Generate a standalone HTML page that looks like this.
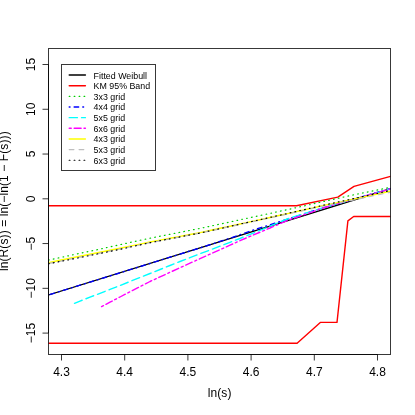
<!DOCTYPE html>
<html><head><meta charset="utf-8"><title>plot</title>
<style>
html,body{margin:0;padding:0;background:#fff;}
svg{display:block;will-change:transform;}
text{font-family:"Liberation Sans",sans-serif;fill:#000;}
.ax{stroke:#000;stroke-opacity:0.78;stroke-width:1;}
</style></head><body>
<svg width="415" height="415" viewBox="0 0 415 415">
<rect width="415" height="415" fill="#fff"/>
<defs><clipPath id="c"><rect x="48.5" y="48.5" width="342" height="306"/></clipPath></defs>
<g clip-path="url(#c)" stroke-linejoin="round" stroke-linecap="round">
<polyline points="40.0,297.6 400.0,185.8" fill="none" stroke="#000" stroke-width="1.4"/>
<polyline points="40.0,205.7 296.5,205.7 337.8,197.1 354.0,186.4 390.5,176.4 400.0,173.8" fill="none" stroke="#ff0000" stroke-width="1.4"/>
<polyline points="40.0,343.3 297.1,343.3 320.3,322.4 337.0,322.4 347.9,220.9 353.7,216.5 400.0,216.5" fill="none" stroke="#ff0000" stroke-width="1.4"/>
<polyline points="40.0,261.9 48.5,260.1 60.0,257.6 70.0,255.5 80.0,253.3 90.0,251.2 100.0,249.1 110.0,246.9 120.0,244.7 130.0,242.5 140.0,240.3 150.0,238.2 160.0,236.2 170.0,234.3 180.0,232.3 190.0,230.4 200.0,228.4 210.0,226.3 220.0,224.1 230.0,222.0 240.0,219.8 250.0,217.7 260.0,215.5 270.0,213.4 280.0,211.2 290.0,209.1 300.0,206.8 310.0,204.6 320.0,202.3 330.0,200.1 340.0,197.9 350.0,195.6 360.0,193.5 370.0,191.5 380.0,189.4 390.0,187.4 390.5,187.3 400.0,185.4" fill="none" stroke="#00cd00" stroke-width="1.22" stroke-dasharray="0.75,4.19" stroke-dashoffset="1.24"/>
<polyline points="40.0,297.6 48.5,295.0 60.0,291.4 70.0,288.3 80.0,285.2 90.0,282.1 100.0,279.0 110.0,275.9 120.0,272.8 130.0,269.7 140.0,266.6 150.0,263.5 160.0,260.3 170.0,257.2 180.0,254.1 190.0,251.0 200.0,247.9 210.0,244.7 220.0,241.4 230.0,238.2 240.0,234.7 250.0,231.2 260.0,227.9 270.0,224.8 280.0,221.6 290.0,218.4 300.0,215.1 310.0,211.9 320.0,208.8 330.0,205.9 340.0,202.9 350.0,200.1 360.0,197.3 370.0,194.4 380.0,191.6 390.0,188.8 390.5,188.7 400.0,186.1" fill="none" stroke="#0000ff" stroke-width="1.4" stroke-dasharray="0.82,4.12,4.53,4.12" stroke-dashoffset="7.8"/>
<polyline points="74.5,303.3 80.0,301.1 90.0,297.2 100.0,293.3 110.0,289.4 120.0,285.5 130.0,281.5 140.0,277.5 150.0,273.5 160.0,269.5 170.0,265.5 180.0,261.5 190.0,257.7 200.0,253.8 210.0,250.0 220.0,246.2 230.0,242.3 240.0,238.5 250.0,234.4 260.0,230.3 270.0,226.2 280.0,222.0 290.0,217.9 300.0,214.9 310.0,211.8 320.0,208.8 330.0,205.7 340.0,203.0 350.0,200.2 360.0,197.5 370.0,194.7 380.0,191.8 390.0,189.0 390.5,188.8 400.0,186.1" fill="none" stroke="#00ffff" stroke-width="1.4" stroke-dasharray="8.23,4.12" stroke-dashoffset="0"/>
<polyline points="101.6,306.6 110.0,302.2 120.0,297.0 130.0,291.8 140.0,286.6 150.0,281.5 160.0,276.9 170.0,272.3 180.0,267.7 190.0,263.2 200.0,258.7 210.0,254.2 220.0,249.7 230.0,245.2 240.0,240.7 250.0,236.4 260.0,232.2 270.0,228.0 280.0,223.7 290.0,219.5 300.0,216.1 310.0,212.6 320.0,209.1 330.0,205.9 340.0,202.9 350.0,200.2 360.0,197.5 370.0,194.7 380.0,191.8 390.0,189.0 390.5,188.8 400.0,186.1" fill="none" stroke="#ff00ff" stroke-width="1.4" stroke-dasharray="2.06,2.88,7.00,2.88" stroke-dashoffset="0"/>
<polyline points="40.0,264.3 48.5,262.6 60.0,260.3 70.0,258.3 80.0,256.3 90.0,254.3 100.0,252.3 110.0,250.2 120.0,248.2 130.0,246.1 140.0,244.1 150.0,242.0 160.0,240.1 170.0,238.2 180.0,236.4 190.0,234.5 200.0,232.6 210.0,230.5 220.0,228.3 230.0,226.2 240.0,224.0 250.0,221.9 260.0,219.7 270.0,217.5 280.0,215.3 290.0,213.1 300.0,210.8 310.0,208.6 320.0,206.3 330.0,204.1 340.0,202.1 350.0,199.9 360.0,197.8 370.0,195.6 380.0,193.5 390.0,191.3 390.5,191.2 400.0,189.1" fill="none" stroke="#ffff00" stroke-width="1.4"/>
<polyline points="40.0,265.3 48.5,263.6 60.0,261.3 70.0,259.2 80.0,257.2 90.0,255.2 100.0,253.2 110.0,251.1 120.0,249.0 130.0,246.9 140.0,244.8 150.0,242.7 160.0,240.8 170.0,238.9 180.0,237.0 190.0,235.1 200.0,233.2 210.0,231.0 220.0,228.8 230.0,226.6 240.0,224.4 250.0,222.2 260.0,220.0 270.0,217.8 280.0,215.7 290.0,213.5 300.0,211.3 310.0,209.0 320.0,206.8 330.0,204.7 340.0,202.7 350.0,200.6 360.0,198.6 370.0,196.5 380.0,194.4 390.0,192.3 390.5,192.2 400.0,190.2" fill="none" stroke="#bebebe" stroke-width="1.22" stroke-dasharray="4.71,5.17" stroke-dashoffset="0"/>
<polyline points="40.0,265.5 48.5,263.8 60.0,261.5 70.0,259.5 80.0,257.5 90.0,255.4 100.0,253.4 110.0,251.4 120.0,249.3 130.0,247.1 140.0,244.9 150.0,242.7 160.0,240.7 170.0,238.8 180.0,236.9 190.0,234.9 200.0,233.0 210.0,230.8 220.0,228.6 230.0,226.4 240.0,224.1 250.0,221.9 260.0,219.7 270.0,217.4 280.0,215.2 290.0,212.9 300.0,210.6 310.0,208.3 320.0,206.0 330.0,203.8 340.0,201.6 350.0,199.5 360.0,197.2 370.0,195.0 380.0,192.8 390.0,190.5 390.5,190.4 400.0,188.3" fill="none" stroke="#000" stroke-width="1.22" stroke-dasharray="0.75,4.19" stroke-dashoffset="1.24"/>
</g>
<rect x="48.5" y="48.5" width="342" height="306" fill="none" class="ax"/>
<line x1="61.5" y1="354.5" x2="377.5" y2="354.5" class="ax"/>
<line x1="48.5" y1="64.5" x2="48.5" y2="333.10" class="ax"/>
<line x1="61.5" y1="354.5" x2="61.5" y2="360.5" class="ax"/>
<text x="61.5" y="375.8" font-size="12" text-anchor="middle">4.3</text>
<line x1="124.7" y1="354.5" x2="124.7" y2="360.5" class="ax"/>
<text x="124.7" y="375.8" font-size="12" text-anchor="middle">4.4</text>
<line x1="187.9" y1="354.5" x2="187.9" y2="360.5" class="ax"/>
<text x="187.9" y="375.8" font-size="12" text-anchor="middle">4.5</text>
<line x1="251.1" y1="354.5" x2="251.1" y2="360.5" class="ax"/>
<text x="251.1" y="375.8" font-size="12" text-anchor="middle">4.6</text>
<line x1="314.3" y1="354.5" x2="314.3" y2="360.5" class="ax"/>
<text x="314.3" y="375.8" font-size="12" text-anchor="middle">4.7</text>
<line x1="377.5" y1="354.5" x2="377.5" y2="360.5" class="ax"/>
<text x="377.5" y="375.8" font-size="12" text-anchor="middle">4.8</text>
<line x1="42.5" y1="64.51" x2="48.5" y2="64.51" class="ax"/>
<text transform="translate(34.5,64.5) rotate(-90)" font-size="12" text-anchor="middle">15</text>
<line x1="42.5" y1="109.27" x2="48.5" y2="109.27" class="ax"/>
<text transform="translate(34.5,109.3) rotate(-90)" font-size="12" text-anchor="middle">10</text>
<line x1="42.5" y1="154.04" x2="48.5" y2="154.04" class="ax"/>
<text transform="translate(34.5,154.0) rotate(-90)" font-size="12" text-anchor="middle">5</text>
<line x1="42.5" y1="198.8" x2="48.5" y2="198.8" class="ax"/>
<text transform="translate(34.5,198.8) rotate(-90)" font-size="12" text-anchor="middle">0</text>
<line x1="42.5" y1="243.56" x2="48.5" y2="243.56" class="ax"/>
<text transform="translate(34.5,243.6) rotate(-90)" font-size="12" text-anchor="middle">−5</text>
<line x1="42.5" y1="288.33" x2="48.5" y2="288.33" class="ax"/>
<text transform="translate(34.5,288.3) rotate(-90)" font-size="12" text-anchor="middle">−10</text>
<line x1="42.5" y1="333.1" x2="48.5" y2="333.1" class="ax"/>
<text transform="translate(34.5,333.1) rotate(-90)" font-size="12" text-anchor="middle">−15</text>
<text x="219.6" y="396.9" font-size="12" text-anchor="middle" letter-spacing="0.12">ln(s)</text>
<text transform="translate(7.7,201.2) rotate(-90)" font-size="12" text-anchor="middle" textLength="139.7" lengthAdjust="spacing">ln(R(s)) = ln(−ln(1 − F(s)))</text>
<rect x="61.5" y="64.5" width="94" height="106" fill="#fff" class="ax"/>
<line x1="69.2" y1="75.05" x2="85.4" y2="75.05" stroke="#000" stroke-width="1.4" stroke-linecap="round"/>
<text x="93.6" y="78.50" font-size="8.85">Fitted Weibull</text>
<line x1="69.2" y1="85.70" x2="85.4" y2="85.70" stroke="#ff0000" stroke-width="1.4" stroke-linecap="round"/>
<text x="93.6" y="89.15" font-size="8.85">KM 95% Band</text>
<line x1="69.2" y1="96.35" x2="85.4" y2="96.35" stroke="#00cd00" stroke-width="1.22" stroke-linecap="round" stroke-dasharray="0.75,4.19"/>
<text x="93.6" y="99.80" font-size="8.85">3x3 grid</text>
<line x1="69.2" y1="107.00" x2="85.4" y2="107.00" stroke="#0000ff" stroke-width="1.4" stroke-linecap="round" stroke-dasharray="0.82,4.12,4.53,4.12"/>
<text x="93.6" y="110.45" font-size="8.85">4x4 grid</text>
<line x1="69.2" y1="117.65" x2="85.4" y2="117.65" stroke="#00ffff" stroke-width="1.4" stroke-linecap="round" stroke-dasharray="8.23,4.12"/>
<text x="93.6" y="121.10" font-size="8.85">5x5 grid</text>
<line x1="69.2" y1="128.30" x2="85.4" y2="128.30" stroke="#ff00ff" stroke-width="1.4" stroke-linecap="round" stroke-dasharray="2.06,2.88,7.00,2.88"/>
<text x="93.6" y="131.75" font-size="8.85">6x6 grid</text>
<line x1="69.2" y1="138.95" x2="85.4" y2="138.95" stroke="#ffff00" stroke-width="1.4" stroke-linecap="round"/>
<text x="93.6" y="142.40" font-size="8.85">4x3 grid</text>
<line x1="69.2" y1="149.60" x2="85.4" y2="149.60" stroke="#bebebe" stroke-width="1.22" stroke-linecap="round" stroke-dasharray="4.71,5.17"/>
<text x="93.6" y="153.05" font-size="8.85">5x3 grid</text>
<line x1="69.2" y1="160.25" x2="85.4" y2="160.25" stroke="#000" stroke-width="1.22" stroke-linecap="round" stroke-dasharray="0.75,4.19"/>
<text x="93.6" y="163.70" font-size="8.85">6x3 grid</text>
</svg>
</body></html>
